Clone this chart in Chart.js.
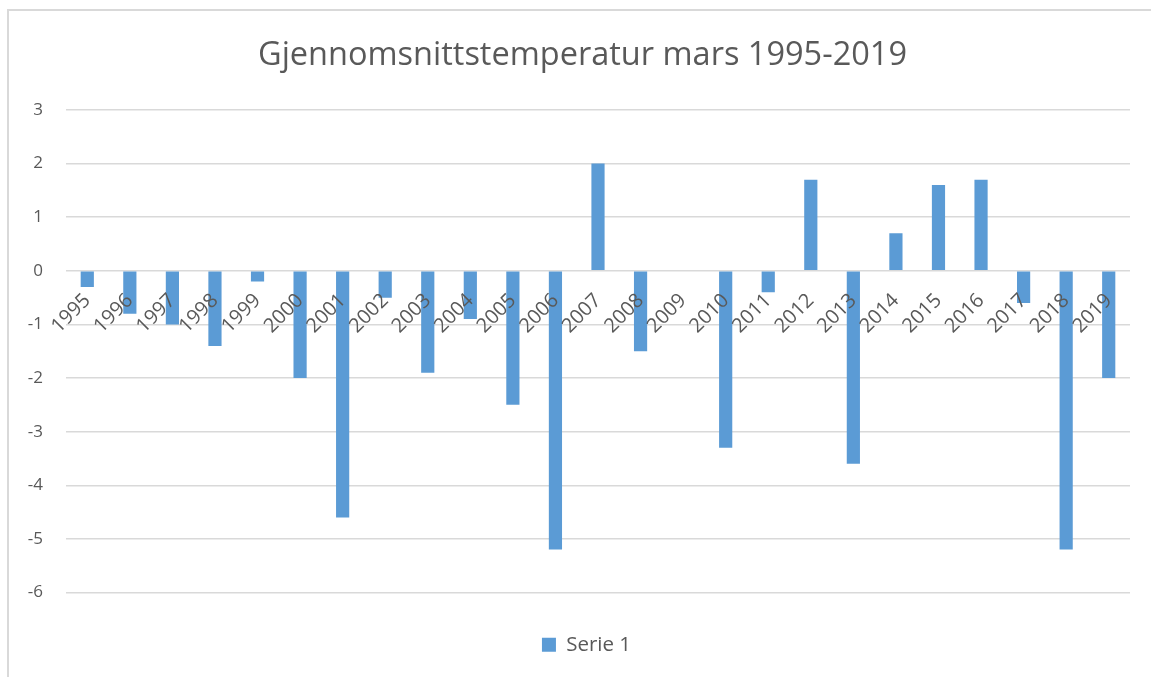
<!DOCTYPE html>
<html>
<head>
<meta charset="utf-8">
<script src="https://cdn.jsdelivr.net/npm/chart.js@4"></script>
<style>
  html, body { margin: 0; background: #fff; overflow: hidden; }
  #wrap {
    position: absolute; left: 7px; top: 9px;
    width: 1150px; height: 700px;
    border-left: 2px solid #d9d9d9; border-top: 2px solid #d9d9d9;
  }
</style>
</head>
<body>
<div id="wrap"><canvas id="chart" width="1142" height="666"></canvas></div>
<script>
// years on the x axis
const years = ["1995", "1996", "1997", "1998", "1999", "2000", "2001", "2002", "2003", "2004",
  "2005", "2006", "2007", "2008", "2009", "2010", "2011", "2012", "2013", "2014",
  "2015", "2016", "2017", "2018", "2019"];

// temperature values
const serie1 = [-0.3, -0.8, -1.0, -1.4, -0.2, -2.0, -4.6, -0.5, -1.9, -0.9,
  -2.5, -5.2, 2.0, -1.5, 0, -3.3, -0.4, 1.7, -3.6, 0.7,
  1.6, 1.7, -0.6, -5.2, -2.0];

const yMin = -6;
const yMax = 3;

const font = "'Open Sans', 'DejaVu Sans', sans-serif";
const grey = "#595959";

// title and legend sit a bit right of the canvas centre in the original
const nudge = {
  id: "nudge",
  afterLayout(chart) {
    const shift = (box, dx) => {
      box.left += dx;
      box.right += dx;
    };
    shift(chart.titleBlock, 13);
    shift(chart.legend, 17);
  },
};

document.addEventListener("DOMContentLoaded", function () {
  const ctx = document.getElementById("chart").getContext("2d");

  new Chart(ctx, {
    type: "bar",
    data: {
      labels: years,
      datasets: [
        {
          label: "Serie 1",
          data: serie1,
          backgroundColor: "#5b9bd5",
          borderWidth: 0,
          barPercentage: 0.31,
          categoryPercentage: 1,
        },
      ],
    },
    options: {
      responsive: false,
      animation: false,
      layout: { padding: { left: 0, right: 21, top: 0, bottom: 12 } },
      plugins: {
        title: {
          display: true,
          text: "Gjennomsnittstemperatur mars 1995-2019",
          color: grey,
          font: { family: font, size: 32.5, weight: "normal" },
          padding: { top: 25, bottom: 35 },
        },
        legend: {
          position: "bottom",
          labels: {
            color: grey,
            font: { family: font, size: 20.5 },
            boxWidth: 14,
            boxHeight: 14,
            padding: 42,
          },
        },
        tooltip: { enabled: false },
      },
      scales: {
        x: {
          position: { y: 0 },
          grid: { display: false },
          border: { display: false },
          ticks: {
            z: 1,
            color: grey,
            font: { family: font, size: 20 },
            autoSkip: false,
            minRotation: 45,
            maxRotation: 45,
            padding: 10,
          },
        },
        y: {
          min: yMin,
          max: yMax,
          grid: { color: "#d9d9d9", lineWidth: 1.5, drawTicks: false },
          border: { display: false },
          ticks: {
            stepSize: 1,
            color: grey,
            font: { family: font, size: 17 },
            padding: 23,
          },
          afterFit: function (scale) {
            scale.width = 57;
          },
        },
      },
    },
    plugins: [nudge],
  });
});
</script>
</body>
</html>
